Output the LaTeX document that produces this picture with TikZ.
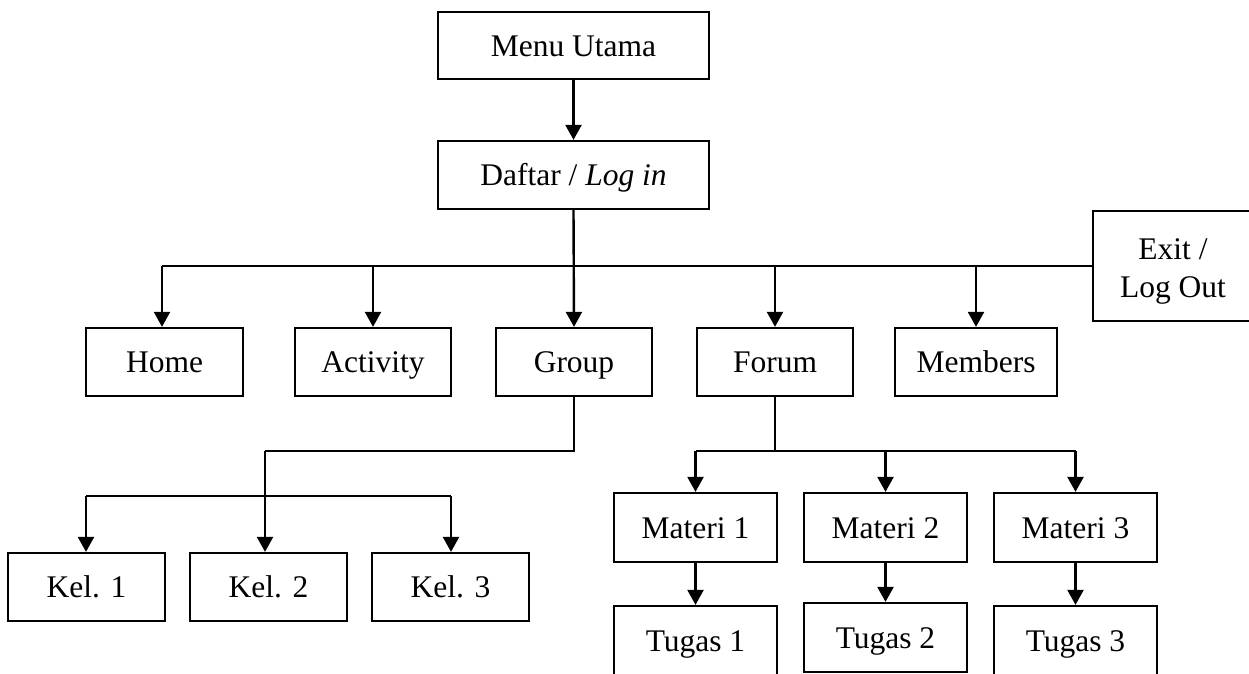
\documentclass[tikz,border=0pt]{standalone}
\usepackage{fontspec}
\setmainfont{Liberation Serif}
\usetikzlibrary{arrows.meta}
\begin{document}
\begin{tikzpicture}[x=1pt,y=-1pt,
  box/.style={draw,line width=2.3pt,rectangle,inner sep=0pt,align=center,
    text height=25pt,text depth=3.6pt,
    font=\fontsize{31.5}{38}\selectfont},
  conn/.style={line width=2.4pt},
  arr/.style={conn,-{Triangle[width=16pt,length=15pt]}}]
\useasboundingbox (0,0) rectangle (1249,673);
% top
\node[box,minimum width=271pt,minimum height=67pt] (menu) at (573.5,45.5) {Menu Utama};
\node[box,minimum width=271pt,minimum height=68pt] (daftar) at (573.5,175) {Daftar / \textit{Log in}};
\node[box,minimum width=160pt,minimum height=110pt,text height=62pt,text depth=0pt] (exit) at (1173,266) {Exit /\\Log Out};
% second level
\node[box,minimum width=157pt,minimum height=68pt] (home) at (164.5,362) {Home};
\node[box,minimum width=156pt,minimum height=68pt] (activity) at (373,362) {Activity};
\node[box,minimum width=156pt,minimum height=68pt] (group) at (574,362) {Group};
\node[box,minimum width=156pt,minimum height=68pt] (forum) at (775,362) {Forum};
\node[box,minimum width=162pt,minimum height=68pt] (members) at (976,362) {Members};
% groups
\node[box,minimum width=157pt,minimum height=68pt] (kel1) at (86.5,587) {Kel. 1};
\node[box,minimum width=157pt,minimum height=68pt] (kel2) at (268.5,587) {Kel. 2};
\node[box,minimum width=157pt,minimum height=68pt] (kel3) at (450.5,587) {Kel. 3};
% forum
\node[box,minimum width=163pt,minimum height=69pt] (materi1) at (695.5,527.5) {Materi 1};
\node[box,minimum width=163pt,minimum height=69pt] (materi2) at (885.5,527.5) {Materi 2};
\node[box,minimum width=163pt,minimum height=69pt] (materi3) at (1075.5,527.5) {Materi 3};
\node[box,minimum width=163pt,minimum height=69pt] (tugas1) at (695.5,640.5) {Tugas 1};
\node[box,minimum width=163pt,minimum height=69pt] (tugas2) at (885.5,637.5) {Tugas 2};
\node[box,minimum width=163pt,minimum height=69pt] (tugas3) at (1075.5,640.5) {Tugas 3};
% connectors
\coordinate (busL) at (162,266);
\coordinate (gbus) at (265,451);
\coordinate (kbusL) at (86,496);
\coordinate (kbusR) at (451,496);
\coordinate (fbus) at (775,451);
\draw[arr] (menu.south) -- (daftar.north);
\draw[arr] (daftar.south) -- (group.north);
\draw[conn] (busL) -- (exit.west);
\draw[arr] (busL) -- (busL |- home.north);
\draw[arr] (activity.north |- busL) -- (activity.north);
\draw[arr] (forum.north |- busL) -- (forum.north);
\draw[arr] (members.north |- busL) -- (members.north);
% group branch
\draw[conn] (group.south) -- (group.south |- gbus) -- (gbus);
\draw[arr] (gbus) -- (gbus |- kel2.north);
\draw[conn] (kbusL) -- (kbusR);
\draw[arr] (kbusL) -- (kbusL |- kel1.north);
\draw[arr] (kbusR) -- (kbusR |- kel3.north);
% forum branch
\draw[conn] (forum.south) -- (fbus);
\draw[conn] (materi1.north |- fbus) -- (materi3.north |- fbus);
\draw[arr] (materi1.north |- fbus) -- (materi1.north);
\draw[arr] (materi2.north |- fbus) -- (materi2.north);
\draw[arr] (materi3.north |- fbus) -- (materi3.north);
\draw[arr] (materi1.south) -- (tugas1.north);
\draw[arr] (materi2.south) -- (tugas2.north);
\draw[arr] (materi3.south) -- (tugas3.north);
\end{tikzpicture}
\end{document}
